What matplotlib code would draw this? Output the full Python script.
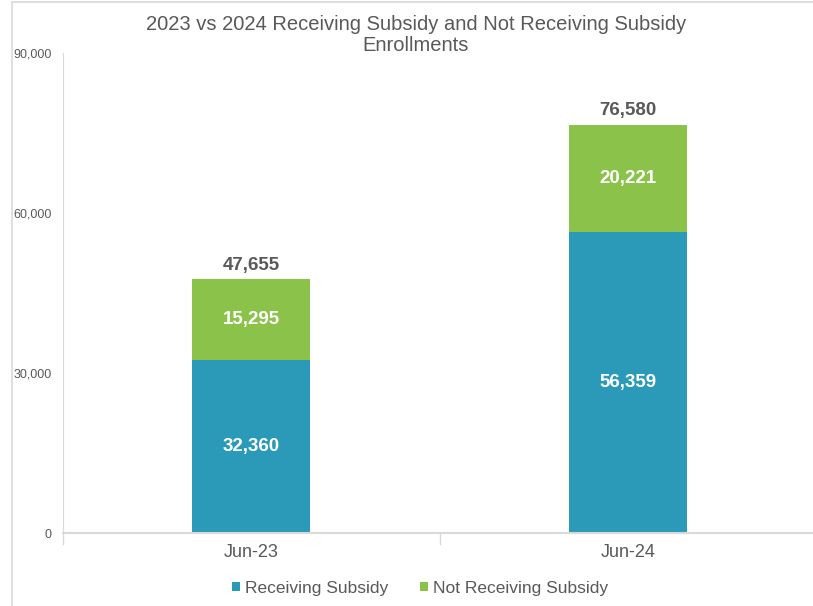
import numpy as np
import matplotlib.pyplot as plt
from matplotlib.lines import Line2D

# ─── DATA ───────────────────────────────────────────────────────────────────
categories = ["Jun-23", "Jun-24"]
receiving = [32360, 56359]
not_receiving = [15295, 20221]
totals = [47655, 76580]
y_ticks = [0, 30000, 60000, 90000]

BLUE = "#2A9AB8"
GREEN = "#8BC34A"
GRAY_TXT = "#595959"

plt.rcParams["font.family"] = ["Liberation Sans", "DejaVu Sans"]

fig = plt.figure(figsize=(8.13, 6.06), dpi=100)
ax = fig.add_axes([63 / 813, (606 - 533) / 606, (813 - 63) / 813, 480 / 606])

x = np.arange(len(categories))
width = 0.313
ax.bar(x, receiving, width, color=BLUE, label="Receiving Subsidy")
ax.bar(x, not_receiving, width, bottom=receiving, color=GREEN, label="Not Receiving Subsidy")

for xi, r, n, t in zip(x, receiving, not_receiving, totals):
    ax.text(xi, r / 2, f"{r:,}", ha="center", va="center", color="white",
            fontsize=13.5, fontweight="bold")
    ax.text(xi, r + n / 2, f"{n:,}", ha="center", va="center", color="white",
            fontsize=13.5, fontweight="bold")
    ax.text(xi, t + 1000, f"{t:,}", ha="center", va="bottom", color=GRAY_TXT,
            fontsize=13.5, fontweight="bold")

ax.set_xlim(-0.5, 1.49)
ax.set_ylim(0, 90000)
ax.set_yticks(y_ticks)
ax.set_yticklabels([f"{v:,}" for v in y_ticks], color=GRAY_TXT, fontsize=9)
ax.set_xticks(x)
ax.set_xticklabels(categories, color=GRAY_TXT, fontsize=13)
ax.tick_params(axis="x", length=0, pad=8)
ax.tick_params(axis="y", length=0, pad=8)

# category separator ticks
for b in [-0.5, 0.5]:
    ax.plot([b, b], [0, -0.022], transform=ax.get_xaxis_transform(), color="#d9d9d9",
            linewidth=1, clip_on=False)

for s in ["top", "right"]:
    ax.spines[s].set_visible(False)
ax.spines["left"].set_color("#d9d9d9")
ax.spines["bottom"].set_color("#d9d9d9")
ax.spines["bottom"].set_linewidth(1.5)

fig.text(416 / 813, 1 - 35 / 606, "2023 vs 2024 Receiving Subsidy and Not Receiving Subsidy\nEnrollments",
         ha="center", va="center", fontsize=14.5, color=GRAY_TXT, linespacing=1.15)

ax.legend(loc="center", bbox_to_anchor=(0.476, -0.115), ncol=2, frameon=False,
          fontsize=12.5, handlelength=0.45, handleheight=0.45, handletextpad=0.3,
          columnspacing=1.8, labelcolor=GRAY_TXT)

# outer border (left and top only visible)
fig.add_artist(Line2D([12 / 813, 12 / 813], [0, 1 - 2 / 606], color="#d9d9d9", linewidth=1.2))
fig.add_artist(Line2D([12 / 813, 1], [1 - 2 / 606, 1 - 2 / 606], color="#d9d9d9", linewidth=1.2))

fig.savefig("out.png", dpi=100)
